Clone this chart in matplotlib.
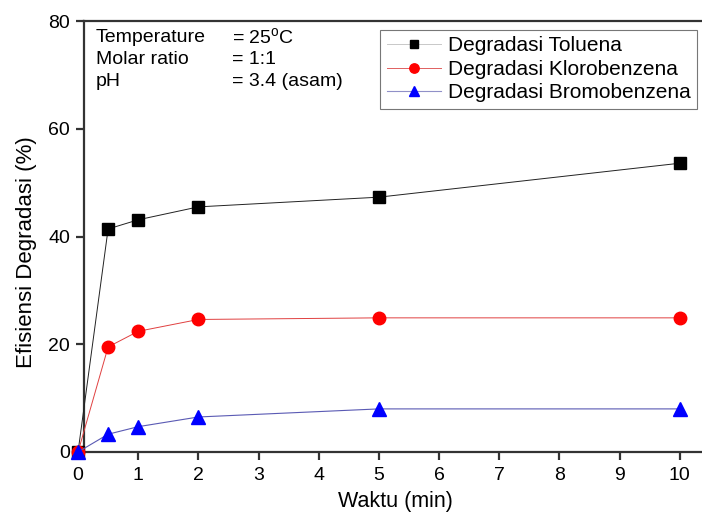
import matplotlib
matplotlib.use("Agg")
import matplotlib.pyplot as plt

plt.rcParams['font.family'] = ['Liberation Sans', 'DejaVu Sans']

waktu = [0, 0.5, 1, 2, 5, 10]
toluena = [0, 41.4, 43.1, 45.5, 47.3, 53.6]
klorobenzena = [0, 19.5, 22.4, 24.6, 24.9, 24.9]
bromobenzena = [0, 3.3, 4.7, 6.5, 8.0, 8.0]
xticks = [0, 1, 2, 3, 4, 5, 6, 7, 8, 9, 10]
yticks = [0, 20, 40, 60, 80]

W, H = 702, 517
fig = plt.figure(figsize=(W / 100, H / 100), dpi=100)
x0, x1 = -0.15, 10.37
left_px, right_px = 69, 702
top_px, bot_px = 21, 452
ax = fig.add_axes([left_px / W, 1 - bot_px / H, (right_px - left_px) / W, (bot_px - top_px) / H])
ax.set_xlim(x0, x1)
ax.set_ylim(0, 80)

spc = '#333333'
ax.plot(waktu, toluena, color='#222222', lw=0.7, marker='s', ms=8, mfc='black', mec='black',
        label='Degradasi Toluena', clip_on=False, zorder=3)
ax.plot(waktu, klorobenzena, color='#e04040', lw=0.7, marker='o', ms=9, mfc='#ff0000', mec='#ff0000',
        label='Degradasi Klorobenzena', clip_on=False, zorder=3)
ax.plot(waktu, bromobenzena, color='#5a5ab4', lw=0.8, marker='^', ms=9.5, mfc='#0000ff', mec='#0000ff',
        label='Degradasi Bromobenzena', clip_on=False, zorder=3)

ax.spines['right'].set_visible(False)
ax.spines['left'].set_position(('data', 0.1))
ax.spines['top'].set_bounds(0.1, x1)
ax.spines['bottom'].set_bounds(0, x1)
for s in ['left', 'top', 'bottom']:
    ax.spines[s].set_linewidth(1.6)
    ax.spines[s].set_color(spc)

ax.set_xticks(xticks)
ax.set_yticks(yticks)
ax.tick_params(direction='out', length=6, width=1.6, color=spc, labelsize=14, top=False, right=False)
ax.tick_params(axis='x', pad=5)
ax.tick_params(axis='y', pad=4)
ax.set_xlabel('Waktu (min)', fontsize=15.5)
ax.set_ylabel('Efisiensi Degradasi (%)', fontsize=16)
ax.xaxis.set_label_coords(395 / W, 1 - 491 / H, transform=fig.transFigure)
ax.yaxis.set_label_coords(37 / W, 1 - 252 / H, transform=fig.transFigure)
ax.xaxis.label.set_va('top')

fs_info = 14
ax.text(96 / W, 1 - 38 / H, 'Temperature', transform=fig.transFigure, fontsize=fs_info, va='center')
ax.text(96 / W, 1 - 59 / H, 'Molar ratio', transform=fig.transFigure, fontsize=fs_info, va='center')
ax.text(96 / W, 1 - 81 / H, 'pH', transform=fig.transFigure, fontsize=fs_info, va='center')
ax.text(232 / W, 1 - 38 / H, '= 25$^\\mathregular{o}$C', transform=fig.transFigure, fontsize=fs_info, va='center')
ax.text(232 / W, 1 - 59 / H, '= 1:1', transform=fig.transFigure, fontsize=fs_info, va='center')
ax.text(232 / W, 1 - 81 / H, '= 3.4 (asam)', transform=fig.transFigure, fontsize=fs_info, va='center')

leg = ax.legend(loc='upper right', bbox_to_anchor=(697 / W, 1 - 30 / H), bbox_transform=fig.transFigure,
                fontsize=15, frameon=True, fancybox=False, edgecolor='#555555', borderpad=0.3,
                labelspacing=0.22, handlelength=2.6, handletextpad=0.35, markerscale=0.75,
                borderaxespad=0)
leg.get_frame().set_linewidth(0.8)
for h, c in zip(leg.get_lines(), ['#c8c8c8', '#e06060', '#9090c8']):
    h.set_color(c)

fig.savefig('out.png', dpi=100)
